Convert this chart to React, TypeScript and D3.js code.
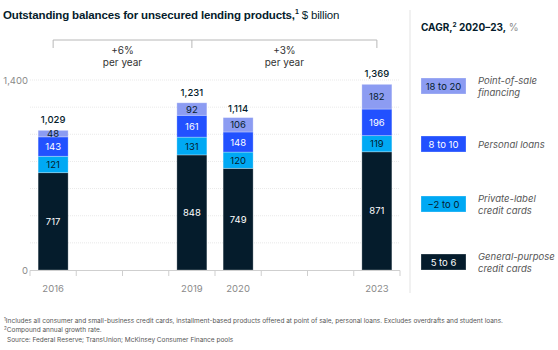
import React from 'react';
import * as d3 from 'd3';

// Data
const years = [2016, 2019, 2020, 2023];
const totals = [1029, 1231, 1114, 1369];
const generalPurpose = [717, 848, 749, 871];
const privateLabel = [121, 131, 120, 119];
const personalLoans = [143, 161, 148, 196];
const pointOfSale = [48, 92, 106, 182];

const seriesKeys = ['general', 'privateLabel', 'personal', 'pos'];
const seriesColors = ['#051c2c', '#00a9f4', '#2251ff', '#8c9cf2'];
const seriesText = ['#ffffff', '#051c2c', '#ffffff', '#051c2c'];
const legendRanges = ['5 to 6', '−2 to 0', '8 to 10', '18 to 20'];
const legendNames = [
  ['General-purpose', 'credit cards'],
  ['Private-label', 'credit cards'],
  ['Personal loans'],
  ['Point-of-sale', 'financing'],
];
const brackets = [
  { from: 2016, to: 2019, label: '+6%' },
  { from: 2019, to: 2023, label: '+3%' },
];
const yTicks = [0, 1400];
const gridValues = [200, 400, 600, 800, 1000, 1200, 1400];

const font = 'Inter, "Noto Sans", Arial, sans-serif';
const titleFont = '"Liberation Sans", Arial, sans-serif';

export default function App() {
  const width = 558;
  const height = 350;

  const x = d3.scaleLinear().domain([2015.5, 2023.5]).range([30, 400]);
  const y = d3.scaleLinear().domain([0, 1400]).range([270, 80]);
  const barWidth = 30;

  const rows = years.map((year, i) => ({
    year,
    general: generalPurpose[i],
    privateLabel: privateLabel[i],
    personal: personalLoans[i],
    pos: pointOfSale[i],
  }));
  const stacked = d3.stack<any>().keys(seriesKeys)(rows);

  const axisTicks = d3.range(2015.5, 2024, 1);

  // legend box positions, from bottom up
  const legendY = [254, 196, 136, 78];

  return (
    <svg width={width} height={height} style={{ position: 'absolute', left: 0, top: 0, fontFamily: font }}>
      <rect width={width} height={height} fill="#fff" />
      {/* Title */}
      <text x={3} y={19} fontSize={11.5} fill="#051c2c" fontFamily={titleFont} letterSpacing={-0.15}>
        <tspan fontWeight={700}>Outstanding balances for unsecured lending products,</tspan>
        <tspan fontSize={7} dy={-5} fontWeight={700}>1</tspan>
        <tspan dy={5}> $ billion</tspan>
      </text>

      {/* Brackets */}
      <line x1={x(2016)} x2={x(2023)} y1={40} y2={40} stroke="#b8b8b8" strokeWidth={1} />
      {[2016, 2019, 2023].map(v => (
        <line key={v} x1={x(v)} x2={x(v)} y1={40} y2={48} stroke="#b8b8b8" strokeWidth={1} />
      ))}
      {brackets.map(b => {
        const cx = (x(b.from) + x(b.to)) / 2;
        return (
          <g key={b.label}>
            <text x={cx} y={54} textAnchor="middle" fontSize={10} fill="#333">{b.label}</text>
            <text x={cx} y={66} textAnchor="middle" fontSize={10} fill="#333">per year</text>
          </g>
        );
      })}

      {/* Grid */}
      {gridValues.map(v => (
        <line key={v} x1={30} x2={400} y1={y(v)} y2={y(v)} stroke="#e3e3e3" strokeWidth={0.8} strokeDasharray="1,1" />
      ))}
      {yTicks.map(v => (
        <text key={v} x={28} y={y(v) + 3.5} textAnchor="end" fontSize={9.5} fill="#8a8a8a">
          {d3.format(',')(v)}
        </text>
      ))}

      {/* Bars */}
      {stacked.map((s, si) => (
        <g key={s.key} fill={seriesColors[si]}>
          {s.map((d, i) => {
            const x0 = x(d.data.year) - barWidth / 2;
            const top = y(d[1]);
            const h = y(d[0]) - y(d[1]);
            return (
              <g key={i}>
                <rect x={x0} y={top} width={barWidth} height={h} stroke="#ffffff" strokeOpacity={0.35} strokeWidth={0.8} />
                <text x={x(d.data.year)} y={top + h / 2 + 3.5} textAnchor="middle" fontSize={9.5} fill={seriesText[si]}>
                  {d[1] - d[0]}
                </text>
              </g>
            );
          })}
        </g>
      ))}
      {years.map((yr, i) => (
        <text key={yr} x={x(yr)} y={y(totals[i]) - 7} textAnchor="middle" fontSize={9.5} fontWeight={500} fill="#051c2c">
          {d3.format(',')(totals[i])}
        </text>
      ))}

      {/* X axis */}
      <line x1={30} x2={400} y1={270.5} y2={270.5} stroke="#cfcfcf" strokeWidth={1} />
      {axisTicks.map(t => (
        <line key={t} x1={x(t)} x2={x(t)} y1={270.5} y2={276} stroke="#cfcfcf" strokeWidth={1} />
      ))}
      {years.map(yr => (
        <text key={yr} x={x(yr)} y={292} textAnchor="middle" fontSize={9.5} fill="#8a8a8a">{yr}</text>
      ))}

      {/* Right panel */}
      <line x1={410} x2={410} y1={10} y2={293} stroke="#e3e3e3" strokeWidth={1} />
      <text x={421} y={31} fontSize={10} fill="#051c2c">
        <tspan fontWeight={700}>CAGR,</tspan>
        <tspan fontSize={6.5} dy={-4} fontWeight={700}>2</tspan>
        <tspan dy={4} fontWeight={700}> 2020–23,</tspan>
        <tspan fill="#8a8a8a"> %</tspan>
      </text>
      {legendY.map((ly, i) => (
        <g key={i}>
          <rect x={421} y={ly} width={45} height={16} fill={seriesColors[i]} stroke="#ffffff" strokeOpacity={0.35} strokeWidth={0.8} />
          <text x={443.5} y={ly + 11.5} textAnchor="middle" fontSize={9.5} fill={seriesText[i]}>{legendRanges[i]}</text>
          {legendNames[i].map((line, li) => (
            <text
              key={li}
              x={478}
              y={legendNames[i].length === 1 ? ly + 11.5 : ly + 6 + li * 12}
              fontSize={9.5}
              fontStyle="italic"
              fill="#555"
            >
              {line}
            </text>
          ))}
        </g>
      ))}

      {/* Footnotes */}
      <text x={4} y={323} fontSize={6.5} fill="#555">
        <tspan fontSize={4.5} dy={-2}>1</tspan>
        <tspan dy={2}>Includes all consumer and small-business credit cards, installment-based products offered at point of sale, personal loans. Excludes overdrafts and student loans.</tspan>
      </text>
      <text x={4} y={332} fontSize={6.5} fill="#555">
        <tspan fontSize={4.5} dy={-2}>2</tspan>
        <tspan dy={2}>Compound annual growth rate.</tspan>
      </text>
      <text x={7} y={342} fontSize={6.5} fill="#555">Source: Federal Reserve; TransUnion; McKinsey Consumer Finance pools</text>
    </svg>
  );
}
